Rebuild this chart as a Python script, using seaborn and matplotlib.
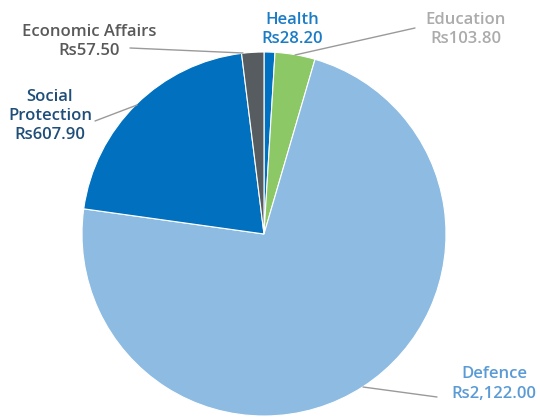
import matplotlib
matplotlib.use("Agg")
import matplotlib.pyplot as plt
import seaborn as sns

categories = ["Health", "Education", "Defence", "Social\nProtection", "Economic Affairs"]
values = [28.20, 103.80, 2122.00, 607.90, 57.50]
value_labels = ["Rs28.20", "Rs103.80", "Rs2,122.00", "Rs607.90", "Rs57.50"]

slice_colors = ["#0070C0", "#8CC865", "#8DBBE2", "#0070BF", "#575C60"]
label_colors = ["#1A7CC6", "#ABABAB", "#5B9BD5", "#1F4E79", "#595959"]

sns.set_theme(style="white")
plt.rcParams['font.family'] = ['Open Sans', 'DejaVu Sans']

W, H = 540, 417
fig = plt.figure(figsize=(5.4, 4.17), dpi=100)
ax = fig.add_axes([0, 0, 1, 1])
cx, cy, r = 264, H - 234, 182
ax.pie(values, colors=slice_colors, startangle=90, counterclock=False,
       center=(cx, cy), radius=r, frame=True,
       wedgeprops=dict(linewidth=0.8, edgecolor="white"))
ax.set_xlim(0, W)
ax.set_ylim(0, H)
ax.set_aspect("equal")
ax.axis("off")

# label positions (x, y top-down)
label_pos = [(292, 29), (466, 29), (494, 384), (50, 116), (89, 41)]
for cat, vl, col, (x, y) in zip(categories, value_labels, label_colors, label_pos):
    ax.text(x, H - y, f"{cat}\n{vl}", ha="center", va="center", color=col,
            fontsize=12, fontweight="semibold", linespacing=1.25)

leader = "#9A9A9A"
lines = [
    [(415, 28), (295, 55)],
    [(437, 397), (363, 387)],
    [(95, 121), (137, 105)],
    [(130, 48), (243, 53)],
]
for pts in lines:
    xs = [p[0] for p in pts]
    ys = [H - p[1] for p in pts]
    ax.plot(xs, ys, color=leader, lw=1)

fig.savefig("out.png", dpi=100)
